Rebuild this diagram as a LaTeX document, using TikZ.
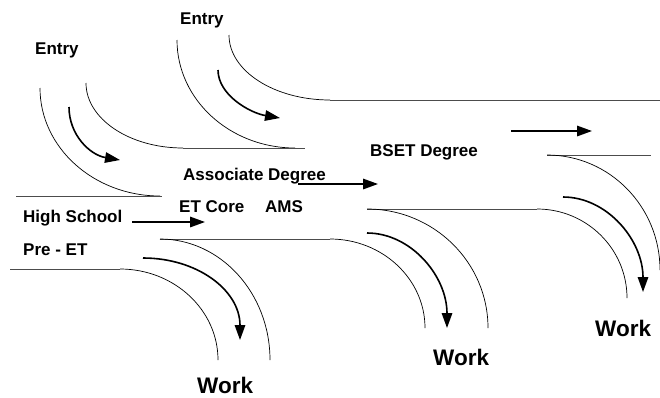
\documentclass[tikz,border=0pt]{standalone}
\usepackage{fontspec}
\setmainfont{Liberation Sans}
\usetikzlibrary{arrows.meta}
\begin{document}
\begin{tikzpicture}[x=1pt,y=-1pt,
  lbl/.style={anchor=base west,inner sep=0pt,font=\bfseries\fontsize{17}{20}\selectfont},
  worklbl/.style={anchor=base west,inner sep=0pt,font=\bfseries\fontsize{22.5}{26}\selectfont},
  wall/.style={line width=0.7pt,black},
  rail/.style={line width=1pt,black!70},
  flow/.style={line width=1.6pt,-{Triangle[length=15pt,width=10.5pt]}}]
\useasboundingbox (0,0) rectangle (660,397);
\clip (0,0) rectangle (660,397);

% labels
\node[lbl] (entry1) at (35,54) {Entry};
\node[lbl] (entry2) at (180,24) {Entry};
\node[lbl] (assoc) at (183,180) {Associate Degree};
\node[lbl] (bset) at (370,156) {BSET Degree};
\node[lbl] (etcore) at (179,212.7) {ET Core};
\node[lbl] (ams) at (265,212.7) {AMS};
\node[lbl] (hs) at (23,222.7) {High School};
\node[lbl] (preet) at (23,255) {Pre - ET};
\node[worklbl] (work1) at (197,393.5) {Work};
\node[worklbl] (work2) at (433,365.7) {Work};
\node[worklbl] (work3) at (595,336) {Work};

% entry curves (top-left)
\draw[wall] (40,88) .. controls (40,147.6) and (93.8,196) .. (160,196);
\draw[rail] (16,196) -- (162,196);
\draw[wall] (86,83) .. controls (86,118.9) and (129.5,148) .. (183,148);
\draw[wall] (177,40) .. controls (177,99.6) and (229.9,148) .. (295,148);
\draw[rail] (183,148) -- (305,148);
\draw[wall] (229,35) .. controls (229,70.9) and (274.2,100) .. (330,100);
\draw[rail] (330,100) -- (660,100);

% work curves
\draw[rail] (160,239) -- (330,239);
\draw[wall] (160,239) .. controls (220.7,239) and (270,293.2) .. (270,360);
\draw[rail] (10,269) -- (120,269);
\draw[wall] (120,269) .. controls (174.1,269) and (218,309.8) .. (218,360);
\draw[wall] (330,239) .. controls (382.4,239) and (425,278.9) .. (425,328);
\draw[rail] (367,209) -- (537,209);
\draw[wall] (367,209) .. controls (433.8,209) and (488,262.3) .. (488,328);
\draw[wall] (537,209) .. controls (586.7,209) and (627,248.9) .. (627,298);
\draw[rail] (547,155) -- (651,155);
\draw[wall] (547,155) .. controls (609.4,155) and (660,206.5) .. (660,270);

% flow arrows
\coordinate (a1s) at (69,107);  \coordinate (a1e) at (120,160);
\coordinate (a2s) at (218,70);  \coordinate (a2e) at (280,118);
\coordinate (a3s) at (143,258); \coordinate (a3e) at (240,340);
\coordinate (a4s) at (367,233); \coordinate (a4e) at (447,328);
\coordinate (a5s) at (563,197); \coordinate (a5e) at (643,292);
\coordinate (s1s) at (132,222); \coordinate (s1e) at (205,222);
\coordinate (s2s) at (298,184); \coordinate (s2e) at (378,184);
\coordinate (s3s) at (511,131); \coordinate (s3e) at (592,131);

\draw[flow] (a1s) .. controls (69,135) and (90,155) .. (a1e);
\draw[flow] (a2s) .. controls (218,95) and (250,113) .. (a2e);
\draw[flow] (a3s) .. controls (197,258) and (240,290) .. (a3e);
\draw[flow] (a4s) .. controls (411,233) and (447,276) .. (a4e);
\draw[flow] (a5s) .. controls (607,197) and (643,240) .. (a5e);
\draw[flow] (s1s) -- (s1e);
\draw[flow] (s2s) -- (s2e);
\draw[flow] (s3s) -- (s3e);
\end{tikzpicture}
\end{document}
